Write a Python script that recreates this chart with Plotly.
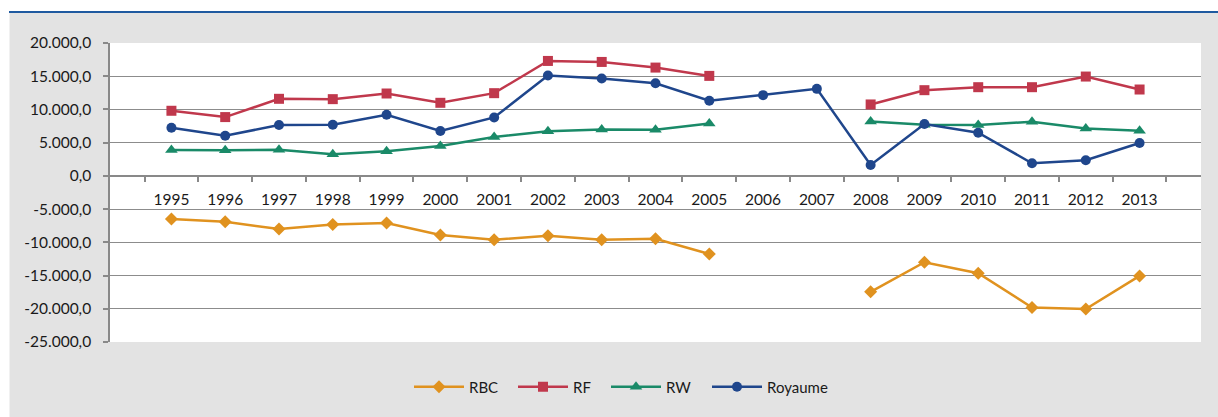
import plotly.graph_objects as go

years = [str(y) for y in range(1995, 2014)]
rbc = [-6500, -6900, -8000, -7300, -7100, -8900, -9600, -9000, -9600, -9450, -11750,
       None, None, -17450, -13000, -14650, -19800, -20050, -15050]
rf = [9800, 8850, 11600, 11550, 12400, 11000, 12450, 17300, 17150, 16300, 15050,
      None, None, 10750, 12900, 13350, 13350, 14950, 13000]
rw = [3900, 3850, 3950, 3250, 3700, 4500, 5850, 6700, 7000, 6950, 7900,
      None, None, 8200, 7700, 7650, 8150, 7150, 6800]
royaume = [7250, 6050, 7650, 7700, 9200, 6750, 8800, 15100, 14650, 13950, 11300,
           12150, 13100, 1650, 7800, 6500, 1900, 2350, 4950]

y_ticks = [20000, 15000, 10000, 5000, 0, -5000, -10000, -15000, -20000, -25000]
y_tick_text = ["20.000,0", "15.000,0", "10.000,0", "5.000,0", "0,0",
               "-5.000,0", "-10.000,0", "-15.000,0", "-20.000,0", "-25.000,0"]

series = [
    ("RBC", rbc, "#E0921F", "diamond", 10),
    ("RF", rf, "#C0384C", "square", 10),
    ("RW", rw, "#1A8A68", "triangle-up", 11),
    ("Royaume", royaume, "#1F468C", "circle", 10),
]
legend_px = [414, 518, 611, 712]

L, R, T, B = 110, 17, 43, 75
W, H = 1218, 417
pw = W - L - R
ph = H - T - B

def px(x):
    return (x - L) / pw

def py(y):
    return (H - B - y) / ph

fig = go.Figure()
legends = {}
for i, (name, vals, color, sym, size) in enumerate(series):
    key = "legend" if i == 0 else f"legend{i + 1}"
    fig.add_trace(go.Scatter(
        x=years, y=vals, name=name, mode="lines+markers",
        line=dict(color=color, width=2.5),
        marker=dict(symbol=sym, size=size, color=color),
        connectgaps=False, legend=key,
    ))
    legends[key] = dict(orientation="h", x=px(legend_px[i] - 5), xanchor="left",
                        y=py(387), yanchor="middle", bgcolor="rgba(0,0,0,0)",
                        font=dict(size=15), itemwidth=50)

fig.update_layout(
    width=W, height=H,
    margin=dict(l=L, r=R, t=T, b=B),
    paper_bgcolor="#E3E3E3",
    plot_bgcolor="white",
    separators=",.",
    font=dict(family="Lato, Carlito, sans-serif", size=15, color="#1a1a1a"),
    showlegend=True,
    shapes=[
        dict(type="rect", xref="paper", yref="paper", x0=px(0), x1=px(W), y0=py(12.5), y1=py(0),
             fillcolor="white", line=dict(width=0), layer="below"),
        dict(type="rect", xref="paper", yref="paper", x0=px(0), x1=px(9.5), y0=py(H), y1=py(0),
             fillcolor="white", line=dict(width=0), layer="below"),
        dict(type="line", xref="paper", yref="paper", x0=px(9), x1=px(W), y0=py(12), y1=py(12),
             line=dict(color="#1F5AA0", width=2)),
    ],
    **legends,
)

fig.update_xaxes(
    type="category", anchor="free", position=25000 / 45000,
    showline=True, linecolor="#898989", linewidth=1.5,
    ticks="outside", tickson="boundaries", ticklen=5, tickcolor="#898989", tickwidth=1.5,
    showgrid=False, zeroline=False, ticklabelstandoff=10,
    tickfont=dict(size=15.5),
)
fig.update_yaxes(
    range=[-25000, 20000], tickvals=y_ticks, ticktext=y_tick_text,
    showline=True, linecolor="#898989", linewidth=1.5,
    ticks="outside", ticklen=5, tickcolor="#898989", tickwidth=1.5,
    showgrid=True, gridcolor="#8C8C8C", gridwidth=1.3,
    zeroline=False, ticklabelstandoff=9,
    tickfont=dict(size=15.5),
)

fig.write_html("out.html", config={"displayModeBar": False},
               post_script="document.body.style.margin='0';")
